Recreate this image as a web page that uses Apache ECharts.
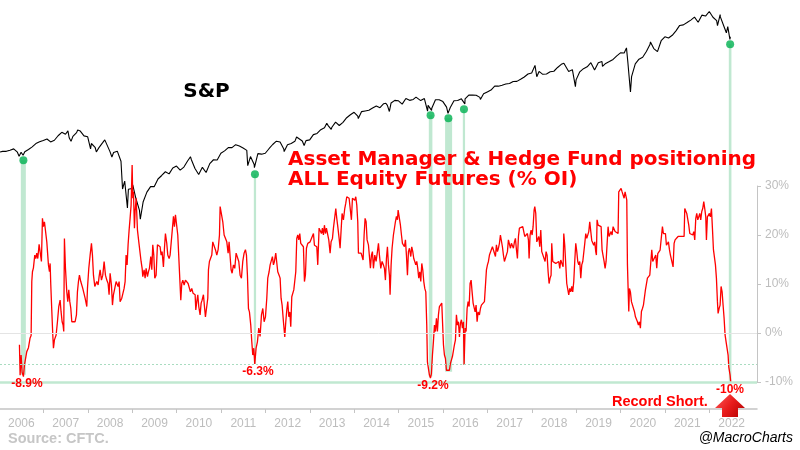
<!DOCTYPE html>
<html><head><meta charset="utf-8">
<script src="https://cdn.jsdelivr.net/npm/echarts@6/dist/echarts.min.js"></script>
<style>html,body{margin:0;padding:0;background:#fff}#c{width:800px;height:450px}</style>
</head><body><div id="c"></div>
<script>
// ---------- DATA ----------
const yearLabels = [2006,2007,2008,2009,2010,2011,2012,2013,2014,2015,2016,2017,2018,2019,2020,2021,2022];
const yearTicks = [2007,2008,2009,2010,2011,2012,2013,2014,2015,2016,2017,2018,2019,2020,2021,2022];
const pctTicks = [-10,0,10,20,30];

// S&P 500 monthly closes
const spxMonthly2006 = [1280.1,1280.7,1294.9,1310.6,1270.1,1270.2,1276.7,1303.8,1335.9,1377.9,1400.6,1418.3,
 1438.2,1406.8,1420.9,1482.4,1530.6,1503.4,1455.3,1474.0,1526.8,1549.4,1481.1,1468.4,
 1378.6,1330.6,1322.7,1385.6,1400.4,1280.0,1267.4,1282.8,1166.4,968.8,896.2,903.3,
 825.9,735.1,797.9,872.8,919.1,919.3,987.5,1020.6,1057.1,1036.2,1095.6,1115.1,
 1073.9,1104.5,1169.4,1186.7,1089.4,1030.7,1101.6,1049.3,1141.2,1183.3,1180.6,1257.6];
const spxMonthly2011 = [1286.1,1327.2,1325.8,1363.6,1345.2,1320.6,1292.3,1218.9,1131.4,1253.3,1247.0,1257.6,
 1312.4,1365.7,1408.5,1397.9,1310.3,1362.2,1379.3,1406.6,1440.7,1412.2,1416.2,1426.2,
 1498.1,1514.7,1569.2,1597.6,1630.7,1606.3,1685.7,1633.0,1681.6,1756.5,1805.8,1848.4,
 1782.6,1859.5,1872.3,1884.0,1923.6,1960.2,1930.7,2003.4,1972.3,2018.1,2067.6,2058.9,
 1995.0,2104.5,2067.9,2085.5,2107.4,2063.1,2103.8,1972.2,1920.0,2079.4,2080.4,2043.9];
const spxMonthly2016 = [1940.2,1932.2,2059.7,2065.3,2097.0,2098.9,2173.6,2171.0,2168.3,2126.2,2198.8,2238.8,
 2278.9,2363.6,2362.7,2384.2,2411.8,2423.4,2470.3,2471.7,2519.4,2575.3,2647.6,2673.6,
 2823.8,2713.8,2640.9,2648.1,2705.3,2718.4,2816.3,2901.5,2914.0,2711.7,2760.2,2506.9,
 2704.1,2784.5,2834.4,2945.8,2752.1,2941.8,2980.4,2926.5,2976.7,3037.6,3141.0,3230.8,
 3225.5,2954.2,2584.6,2912.4,3044.3,3100.3,3271.1,3500.3,3363.0,3270.0,3621.6,3756.1,
 3714.2,3811.2,3972.9,4181.2,4204.1,4297.5,4395.3,4522.7,4307.5,4605.4,4567.0,4766.2,
 4515.6,4373.9,4530.4,4131.9,4132.2];
// intramonth highs / lows [decimal year, level]
const spxExtremes = [[2006.02,1273],[2006.45,1223.7],[2006.54,1234],[2007.16,1399],[2007.20,1377.9],[2007.55,1553],
 [2007.62,1406.7],[2007.77,1565.2],[2008.06,1310.5],[2008.19,1273.4],[2008.38,1426.6],[2008.54,1214.9],
 [2008.78,899],[2008.89,752.4],[2009.01,934.7],[2009.18,676.5],[2010.31,1217.3],[2010.50,1022.6],
 [2011.33,1370],[2011.60,1119.5],[2011.75,1099.2],[2012.25,1419],[2012.42,1278],[2012.70,1465.8],
 [2012.87,1353.3],[2013.38,1669],[2013.48,1573],[2014.09,1741.9],[2014.71,2011.4],[2014.79,1862.5],
 [2015.39,2130.8],[2015.65,1867.6],[2015.74,1881.8],[2015.84,2109.8],[2016.11,1829.1],[2016.49,2000.5],
 [2016.84,2085.2],[2018.07,2872.9],[2018.11,2581],[2018.72,2930.8],[2018.98,2351.1],[2019.42,2744.5],
 [2019.59,2844.7],[2020.13,3386.2],[2020.22,2237.4],[2020.67,3580.8],[2021.67,4537],[2021.76,4300.5],
 [2022.00,4796.6],[2022.18,4170.7],[2022.24,4631.6],[2022.38,3901.4],[2022.46,3666.8],[2022.47,3764.8]];

// Asset Manager & Hedge Fund positioning, % OI  [decimal year, %]
const posA = [[2006.458,-2.4],[2006.473,-8.6],[2006.496,-4.5],[2006.518,-8.0],[2006.548,-8.9],[2006.571,-6.5],[2006.601,-6.8],[2006.623,-3.8],[2006.661,-3.0],[2006.698,-1.0],[2006.721,-0.5],[2006.736,10.5],[2006.751,12.5],[2006.773,13.3],[2006.803,15.9],[2006.826,15.2],[2006.848,16.3],[2006.871,15.2],[2006.901,18.1],[2006.931,18.3],[2006.953,14.6],[2006.976,23.4],[2006.998,21.7],[2007.021,22.7],[2007.059,22.7],[2007.074,18.6],[2007.111,13.9],[2007.134,12.5],[2007.149,14.2],[2007.164,9.8],[2007.186,4.7],[2007.209,-0.4],[2007.224,-3.1],[2007.246,-1.4],[2007.284,-0.4],[2007.314,2.3],[2007.344,5.4],[2007.374,6.7],[2007.396,4.3],[2007.419,2.3],[2007.441,1.6],[2007.456,0.3],[2007.471,19.3],[2007.494,13.3],[2007.524,8.4],[2007.547,6.4],[2007.569,8.8],[2007.592,6.4],[2007.614,5.1],[2007.637,2.3],[2007.674,2.0],[2007.712,2.3],[2007.742,3.7],[2007.764,8.4],[2007.787,10.5],[2007.809,11.8],[2007.839,10.5],[2007.862,10.8],[2007.884,9.1],[2007.914,9.5],[2007.937,7.1],[2007.975,5.4],[2007.990,9.1],[2008.020,13.2],[2008.050,15.9],[2008.080,18.3],[2008.102,15.9],[2008.125,11.8],[2008.155,9.5],[2008.177,9.8],[2008.200,10.5],[2008.230,9.8],[2008.252,11.5],[2008.275,12.9],[2008.305,10.8],[2008.335,11.8],[2008.365,14.6],[2008.395,11.8],[2008.425,10.8],[2008.455,10.1],[2008.477,7.8],[2008.500,12.2],[2008.530,9.8],[2008.553,5.7],[2008.575,7.8],[2008.605,9.1],[2008.635,10.5],[2008.650,10.5],[2008.680,9.5],[2008.703,10.5],[2008.725,6.4],[2008.763,7.1],[2008.785,7.5],[2008.815,9.1],[2008.838,10.5],[2008.860,15.9],[2008.883,13.9],[2008.905,18.0],[2008.928,21.0],[2008.950,23.4],[2008.973,26.1],[2008.996,34.3],[2009.011,27.5],[2009.026,28.8],[2009.048,21.4]];
const posB = [[2009.063,24.8],[2009.086,27.5],[2009.116,21.0],[2009.146,18.6],[2009.176,18.3],[2009.198,14.6],[2009.221,13.2],[2009.236,11.5],[2009.266,12.9],[2009.288,11.2],[2009.311,13.2],[2009.341,11.5],[2009.363,12.5],[2009.386,13.2],[2009.416,15.6],[2009.439,12.9],[2009.461,18.0],[2009.484,15.9],[2009.506,11.2],[2009.536,11.8],[2009.566,18.0],[2009.596,18.3],[2009.626,17.6],[2009.649,15.9],[2009.671,16.6],[2009.701,13.5],[2009.724,17.3],[2009.746,20.3],[2009.776,18.3],[2009.799,15.9],[2009.829,15.2],[2009.851,15.9],[2009.881,15.6],[2009.904,21.4],[2009.927,23.8],[2009.949,21.7],[2009.972,24.1],[2010.002,24.1],[2010.024,20.0],[2010.047,19.7],[2010.069,11.2],[2010.092,6.7],[2010.114,10.1],[2010.137,10.8],[2010.167,9.8],[2010.197,10.8],[2010.227,10.5],[2010.257,10.1],[2010.287,9.1],[2010.309,8.4],[2010.339,9.1],[2010.369,8.1],[2010.392,8.4],[2010.415,7.8],[2010.430,4.7],[2010.452,6.4],[2010.475,7.8],[2010.497,5.4],[2010.527,3.7],[2010.550,6.1],[2010.572,6.7],[2010.602,7.8],[2010.625,5.4],[2010.647,3.3],[2010.677,3.0],[2010.700,7.1],[2010.715,12.9],[2010.737,14.6],[2010.767,14.9],[2010.790,15.9],[2010.812,18.6],[2010.842,18.9],[2010.872,17.0],[2010.903,15.9],[2010.933,17.0],[2010.963,20.0],[2010.978,25.8],[2011.008,25.4],[2011.038,22.7],[2011.068,20.0],[2011.098,20.0],[2011.128,18.6],[2011.158,16.3],[2011.180,18.6],[2011.203,15.6],[2011.225,12.9],[2011.248,12.2],[2011.278,13.9],[2011.308,13.2],[2011.338,16.3],[2011.368,16.3],[2011.398,14.6],[2011.428,11.8],[2011.458,11.2],[2011.488,14.6],[2011.518,16.3],[2011.548,17.0],[2011.571,15.9],[2011.593,11.8],[2011.616,5.0],[2011.638,4.3],[2011.668,1.6],[2011.691,-1.8],[2011.713,-4.5],[2011.736,-3.1],[2011.758,-6.3],[2011.788,-3.1],[2011.818,-1.8],[2011.848,1.0],[2011.878,-0.7],[2011.909,3.7],[2011.939,5.0],[2011.969,2.3]];
const posC = [[2011.999,3.3],[2012.029,7.1],[2012.051,11.2],[2012.081,12.5],[2012.104,13.9],[2012.134,13.5],[2012.156,15.6],[2012.179,13.9],[2012.201,14.6],[2012.231,16.3],[2012.254,15.9],[2012.276,12.5],[2012.306,11.8],[2012.329,11.2],[2012.351,7.1],[2012.374,5.7],[2012.404,2.3],[2012.434,-0.8],[2012.457,2.3],[2012.479,4.7],[2012.502,6.4],[2012.524,3.3],[2012.547,4.3],[2012.569,1.3],[2012.592,7.4],[2012.614,7.8],[2012.637,8.8],[2012.659,9.1],[2012.682,12.5],[2012.704,19.3],[2012.727,20.0],[2012.749,19.0],[2012.772,20.3],[2012.794,18.3],[2012.824,18.6],[2012.854,17.6],[2012.877,10.5],[2012.899,11.8],[2012.922,17.3],[2012.952,18.3],[2012.975,18.0],[2013.005,18.6],[2013.027,18.3],[2013.050,18.6],[2013.080,20.3],[2013.102,17.9],[2013.125,18.3],[2013.155,17.6],[2013.177,13.9],[2013.207,21.4],[2013.230,21.0],[2013.260,20.3],[2013.282,21.4],[2013.305,20.0],[2013.327,22.0],[2013.350,20.3],[2013.372,21.4],[2013.402,21.0],[2013.425,19.0],[2013.455,16.3],[2013.477,18.6],[2013.508,19.3],[2013.530,21.4],[2013.560,21.7],[2013.583,25.4],[2013.605,23.4],[2013.628,21.7],[2013.658,19.3],[2013.680,17.3],[2013.703,21.0],[2013.725,24.4],[2013.755,23.1],[2013.785,25.4],[2013.808,26.5],[2013.830,27.8],[2013.860,28.2],[2013.883,27.5],[2013.913,27.8],[2013.935,23.1],[2013.958,27.5],[2013.980,27.8],[2014.011,27.1],[2014.033,27.8],[2014.056,26.1],[2014.078,22.7],[2014.093,16.3],[2014.123,15.9],[2014.153,16.3],[2014.176,15.6],[2014.198,14.9],[2014.221,20.0],[2014.243,23.4],[2014.266,22.7],[2014.288,19.0],[2014.318,18.0],[2014.341,15.6],[2014.363,13.2],[2014.386,15.9],[2014.408,16.6],[2014.431,13.2],[2014.461,15.9],[2014.491,14.6],[2014.521,16.6],[2014.544,18.3],[2014.566,15.9],[2014.596,13.2],[2014.626,14.6],[2014.656,13.9],[2014.679,13.2],[2014.701,10.8],[2014.724,15.2],[2014.746,17.6],[2014.769,13.9],[2014.791,11.8],[2014.806,7.8],[2014.829,13.9],[2014.851,17.3],[2014.881,20.0]];
const posD = [[2014.926,22.7],[2014.949,23.8],[2014.972,23.1],[2014.987,25.1],[2015.017,25.1],[2015.039,22.0],[2015.062,20.0],[2015.084,18.3],[2015.107,18.6],[2015.129,17.6],[2015.152,19.0],[2015.174,15.9],[2015.197,11.8],[2015.219,16.6],[2015.242,17.3],[2015.272,15.6],[2015.294,17.6],[2015.317,16.6],[2015.339,15.2],[2015.362,14.6],[2015.384,13.9],[2015.407,14.6],[2015.429,13.2],[2015.452,11.2],[2015.475,12.5],[2015.497,10.5],[2015.520,14.2],[2015.542,12.9],[2015.565,10.5],[2015.587,9.1],[2015.610,8.4],[2015.632,1.6],[2015.647,-5.9],[2015.670,-6.2],[2015.692,-8.6],[2015.715,-9.2],[2015.737,-8.3],[2015.760,-4.5],[2015.782,-1.8],[2015.805,1.6],[2015.827,0.3],[2015.850,3.0],[2015.872,0.3],[2015.895,3.7],[2015.917,5.4],[2015.940,5.7],[2015.970,6.1],[2015.993,6.4],[2016.008,-2.4],[2016.030,-4.5],[2016.053,-5.2],[2016.075,-7.6],[2016.098,-7.9],[2016.120,-7.2],[2016.143,-7.6],[2016.165,-6.2],[2016.188,-6.5],[2016.210,-4.8],[2016.233,-4.5],[2016.255,-2.4],[2016.278,-1.4],[2016.300,3.7],[2016.323,1.6],[2016.345,2.3],[2016.368,-0.8],[2016.390,2.0],[2016.413,2.7],[2016.435,1.0],[2016.458,2.3],[2016.473,-6.5],[2016.496,1.0],[2016.518,0.3],[2016.541,5.0],[2016.563,6.4],[2016.586,5.4],[2016.608,10.1],[2016.631,10.8],[2016.653,8.4],[2016.676,6.1],[2016.698,5.7],[2016.721,4.3],[2016.743,5.7],[2016.766,2.3],[2016.788,4.3],[2016.818,3.7],[2016.841,5.0],[2016.863,5.7],[2016.886,5.4],[2016.908,6.1],[2016.931,6.4],[2016.953,6.4],[2016.976,12.9],[2016.999,13.9],[2017.021,14.6],[2017.044,15.9],[2017.066,15.6],[2017.089,15.9],[2017.111,17.6],[2017.134,17.3],[2017.156,17.3],[2017.179,15.6],[2017.201,18.0],[2017.224,16.6],[2017.246,17.3],[2017.269,18.3],[2017.291,20.0],[2017.314,20.0],[2017.336,17.6],[2017.359,15.9],[2017.381,14.6],[2017.404,14.9],[2017.426,14.2],[2017.449,16.6],[2017.471,19.0],[2017.494,19.0],[2017.517,17.3],[2017.539,18.3],[2017.562,18.0],[2017.584,17.3],[2017.607,18.6],[2017.629,19.3],[2017.652,17.0],[2017.674,15.2],[2017.697,19.7],[2017.719,21.4],[2017.742,21.0],[2017.764,21.5],[2017.794,21.7],[2017.817,21.7],[2017.839,19.7]];
const posE = [[2017.869,20.0],[2017.899,20.3],[2017.922,19.0],[2017.937,15.2],[2017.959,20.0],[2017.982,21.0],[2018.005,20.0],[2018.027,21.7],[2018.050,25.1],[2018.065,25.8],[2018.087,24.4],[2018.110,18.6],[2018.132,18.3],[2018.155,19.7],[2018.177,17.6],[2018.200,21.0],[2018.222,16.6],[2018.245,16.6],[2018.267,16.6],[2018.297,14.6],[2018.320,16.6],[2018.342,15.9],[2018.365,12.5],[2018.387,10.1],[2018.410,11.2],[2018.432,11.8],[2018.447,18.3],[2018.470,14.6],[2018.493,14.2],[2018.515,14.6],[2018.538,14.2],[2018.560,14.2],[2018.583,13.9],[2018.605,14.6],[2018.628,13.2],[2018.650,14.9],[2018.680,14.6],[2018.703,13.5],[2018.718,20.3],[2018.740,17.9],[2018.763,13.9],[2018.785,10.1],[2018.808,10.1],[2018.830,7.8],[2018.853,9.1],[2018.875,8.4],[2018.898,9.5],[2018.920,8.4],[2018.943,10.5],[2018.965,14.6],[2018.988,18.3],[2019.011,16.6],[2019.033,14.6],[2019.056,13.9],[2019.078,14.6],[2019.101,11.2],[2019.123,13.9],[2019.146,14.6],[2019.168,14.6],[2019.191,18.3],[2019.213,20.3],[2019.236,19.3],[2019.258,19.7],[2019.281,20.7],[2019.303,22.7],[2019.326,22.4],[2019.348,18.9],[2019.371,18.9],[2019.393,17.9],[2019.416,18.6],[2019.438,16.6],[2019.453,15.9],[2019.468,23.1],[2019.491,22.0],[2019.514,21.7],[2019.536,22.0],[2019.559,21.7],[2019.581,16.9],[2019.604,16.6],[2019.626,14.6],[2019.649,13.2],[2019.671,14.6],[2019.694,14.6],[2019.716,21.7],[2019.739,19.7],[2019.761,20.0],[2019.784,20.7],[2019.806,20.0],[2019.829,21.7],[2019.851,22.0],[2019.874,20.7],[2019.896,21.0],[2019.919,20.7],[2019.941,20.3],[2019.956,28.8],[2019.987,29.2],[2020.009,29.5],[2020.032,28.8],[2020.054,28.5],[2020.077,27.5],[2020.099,28.8],[2020.122,28.5],[2020.137,27.1],[2020.152,13.9],[2020.167,9.1],[2020.182,4.4],[2020.197,9.1],[2020.219,8.4],[2020.242,6.4],[2020.264,6.7],[2020.287,6.4],[2020.309,4.4],[2020.332,3.3],[2020.354,3.7],[2020.377,2.3],[2020.399,1.6],[2020.422,2.3],[2020.444,1.0],[2020.467,4.4],[2020.490,5.0],[2020.512,5.7],[2020.535,6.1],[2020.557,8.8],[2020.580,8.4],[2020.602,11.2],[2020.625,11.5],[2020.655,11.8],[2020.677,12.2],[2020.700,17.0],[2020.722,14.6],[2020.752,14.9]];
const posF = [[2020.767,14.6],[2020.790,15.9],[2020.812,13.2],[2020.835,16.2],[2020.857,16.6],[2020.887,16.9],[2020.917,16.6],[2020.940,21.7],[2020.962,20.3],[2020.985,20.3],[2021.008,20.3],[2021.030,17.9],[2021.053,18.3],[2021.075,18.6],[2021.098,17.0],[2021.120,15.9],[2021.143,16.3],[2021.165,15.6],[2021.180,13.5],[2021.203,18.3],[2021.225,19.0],[2021.248,19.3],[2021.270,19.0],[2021.293,19.7],[2021.315,19.7],[2021.338,20.0],[2021.360,19.7],[2021.383,20.0],[2021.405,19.7],[2021.428,19.7],[2021.443,25.4],[2021.465,25.1],[2021.488,24.4],[2021.511,24.4],[2021.533,22.0],[2021.556,20.3],[2021.578,20.0],[2021.601,20.3],[2021.623,20.0],[2021.646,20.7],[2021.668,19.0],[2021.691,23.4],[2021.713,24.4],[2021.736,23.1],[2021.758,23.7],[2021.781,24.4],[2021.803,23.1],[2021.826,24.8],[2021.848,25.4],[2021.871,26.8],[2021.893,25.4],[2021.916,23.7],[2021.931,19.0],[2021.953,23.7],[2021.976,24.1],[2021.998,24.4],[2022.021,23.7],[2022.044,25.4],[2022.066,21.4],[2022.089,17.0],[2022.111,16.6],[2022.134,13.9],[2022.156,11.2],[2022.179,6.4],[2022.194,4.0],[2022.216,5.0],[2022.239,5.7],[2022.261,9.5],[2022.284,8.4],[2022.306,5.7],[2022.329,3.0],[2022.351,-0.4],[2022.374,-1.8],[2022.396,-2.1],[2022.419,-4.5],[2022.434,-6.9],[2022.449,-7.2],[2022.464,-8.6],[2022.479,-10.0]];

// highlighted episodes
const markDates = [2006.547, 2011.762, 2015.718, 2016.119, 2016.470, 2022.465];
const markSpx = [1177, 1032, 1797, 1747, 1901, 3503];
const bandStart = [2006.489, 2011.737, 2015.678, 2016.045, 2016.444, 2022.435];
const bandEnd = [2006.602, 2011.788, 2015.759, 2016.203, 2016.495, 2022.494];
const bandLow = [-8.5, -6.3, -8.9, -7.9, -6.5, -10];
const lowLabels = ['-8.9%', '-6.3%', '-9.2%', '-10%'];
const refLevels = [0, -6.3, -10];

// ---------- BUILD ----------
function monthlyToPoints(startYear, arr) {
  return arr.map((v, i) => [startYear + Math.floor(i / 12) + ((i % 12) + 1) / 12 - 0.005, v]);
}
const spxData = [].concat(monthlyToPoints(2006, spxMonthly2006), monthlyToPoints(2011, spxMonthly2011),
  monthlyToPoints(2016, spxMonthly2016), spxExtremes).sort((a, b) => a[0] - b[0]);
const posData = [].concat(posA, posB, posC, posD, posE, posF);

const X_MIN = 2006.02, X_MAX = 2023.07;
const chart = echarts.init(document.getElementById('c'), null, {renderer: 'canvas'});
const GRAY = '#c4c4c4';

chart.setOption({
  animation: false,
  backgroundColor: '#fff',
  grid: [
    {left: 0, right: 43, top: 0, bottom: 41},
    {left: 0, right: 43, top: 186, bottom: 68}
  ],
  xAxis: [
    {type: 'value', gridIndex: 0, min: X_MIN, max: X_MAX,
     axisLine: {show: true, lineStyle: {color: GRAY, width: 1.5}},
     axisTick: {show: true, length: 4, lineStyle: {color: GRAY}, customValues: yearTicks},
     axisLabel: {show: true, customValues: yearLabels.map(y => y + 0.5), formatter: v => String(Math.floor(v)),
       color: '#bdbdbd', fontSize: 12, fontFamily: 'Liberation Sans', margin: 9},
     splitLine: {show: false}},
    {type: 'value', gridIndex: 1, min: X_MIN, max: X_MAX, show: false, splitLine: {show: false}}
  ],
  yAxis: [
    {type: 'log', gridIndex: 0, min: 113.7, max: 5310, show: false, splitLine: {show: false}},
    {type: 'value', gridIndex: 1, position: 'right', min: -10, max: 30, interval: 10,
     axisLine: {show: true, lineStyle: {color: GRAY, width: 1}},
     axisTick: {show: true, length: 4, lineStyle: {color: GRAY}},
     axisLabel: {formatter: '{value}%', color: '#bdbdbd', fontSize: 12, fontFamily: 'Liberation Sans', margin: 8},
     splitLine: {show: false}}
  ],
  series: [
    {name: 'refs', type: 'line', xAxisIndex: 1, yAxisIndex: 1, data: [], z: 1, silent: true,
     markLine: {silent: true, symbol: 'none', label: {show: false}, animation: false,
       data: [
         {yAxis: refLevels[0], lineStyle: {color: '#e4e4e4', width: 1, type: 'solid'}},
         {yAxis: refLevels[1], lineStyle: {color: '#a9dcc0', width: 1, type: [2, 2]}},
         {yAxis: refLevels[2], lineStyle: {color: '#c0e8d1', width: 2.5, type: 'solid'}}
       ]}},
    {name: 'S&P', type: 'line', xAxisIndex: 0, yAxisIndex: 0, data: spxData, showSymbol: false, symbol: 'none',
     lineStyle: {color: '#000', width: 1.1}, z: 3},
    {name: 'Positioning', type: 'line', xAxisIndex: 1, yAxisIndex: 1, data: posData, showSymbol: false, symbol: 'none',
     clip: false, lineStyle: {color: '#ff0000', width: 1.3}, z: 4},
    {name: 'marks', type: 'scatter', xAxisIndex: 0, yAxisIndex: 0, data: markDates.map((d, i) => [d, markSpx[i]]),
     symbolSize: 8, itemStyle: {color: '#00b050'}, z: 6}
  ]
});

// green bands from S&P dot down to positioning low
const bands = markDates.map((d, i) => {
  const top = chart.convertToPixel({gridIndex: 0}, [bandStart[i], markSpx[i]]);
  const right = chart.convertToPixel({gridIndex: 0}, [bandEnd[i], markSpx[i]]);
  const bot = chart.convertToPixel({gridIndex: 1}, [d, bandLow[i]]);
  return {type: 'rect', z: 0, silent: true,
    shape: {x: top[0], y: top[1], width: Math.max(2, right[0] - top[0]), height: bot[1] - top[1]},
    style: {fill: '#c0e8d1'}};
});

const redLbl = (txt, x, y) => ({type: 'text', z: 50, silent: true,
  style: {text: txt, x: x, y: y, align: 'center', verticalAlign: 'middle', fill: '#ff0000',
    fontSize: 12, fontWeight: 'bold', fontFamily: 'Liberation Sans'}});

chart.setOption({
  graphic: [].concat(bands, [
    {type: 'text', z: 50, silent: true, style: {text: 'S&P', x: 206.5, y: 92, align: 'center', verticalAlign: 'middle',
      fill: '#000', fontSize: 20, fontWeight: 'bold', fontFamily: 'DejaVu Sans'}},
    {type: 'text', z: 50, silent: true, style: {text: 'Asset Manager & Hedge Fund positioning', x: 288, y: 160,
      align: 'left', verticalAlign: 'middle', fill: '#ff0000', fontSize: 20, fontWeight: 'bold', fontFamily: 'DejaVu Sans'}},
    {type: 'text', z: 50, silent: true, style: {text: 'ALL Equity Futures (% OI)', x: 288, y: 180,
      align: 'left', verticalAlign: 'middle', fill: '#ff0000', fontSize: 20, fontWeight: 'bold', fontFamily: 'DejaVu Sans'}},
    redLbl(lowLabels[0], 27, 384),
    redLbl(lowLabels[1], 258, 372),
    redLbl(lowLabels[2], 433, 386),
    redLbl(lowLabels[3], 730, 389.5),
    {type: 'text', z: 50, silent: true, style: {text: 'Record Short.', x: 612, y: 402, align: 'left', verticalAlign: 'middle',
      fill: '#ff0000', fontSize: 14.5, fontWeight: 'bold', fontFamily: 'Liberation Sans'}},
    {type: 'polygon', z: 60, silent: true,
      shape: {points: [[730, 394], [745, 408], [738, 408], [738, 417], [722, 417], [722, 408], [715, 408]]},
      style: {fill: new echarts.graphic.LinearGradient(0, 0, 1, 1, [
        {offset: 0, color: '#ff5a5a'}, {offset: 0.5, color: '#e81c1c'}, {offset: 1, color: '#b00000'}])}},
    {type: 'text', z: 50, silent: true, style: {text: 'Source: CFTC.', x: 8, y: 438.5, align: 'left', verticalAlign: 'middle',
      fill: '#c6c6c6', fontSize: 14.5, fontWeight: 'bold', fontFamily: 'Liberation Sans'}},
    {type: 'text', z: 50, silent: true, style: {text: '@MacroCharts', x: 793, y: 438, align: 'right', verticalAlign: 'middle',
      fill: '#000', fontSize: 14, fontStyle: 'italic', fontFamily: 'Liberation Sans'}}
  ])
});
</script>
</body></html>
